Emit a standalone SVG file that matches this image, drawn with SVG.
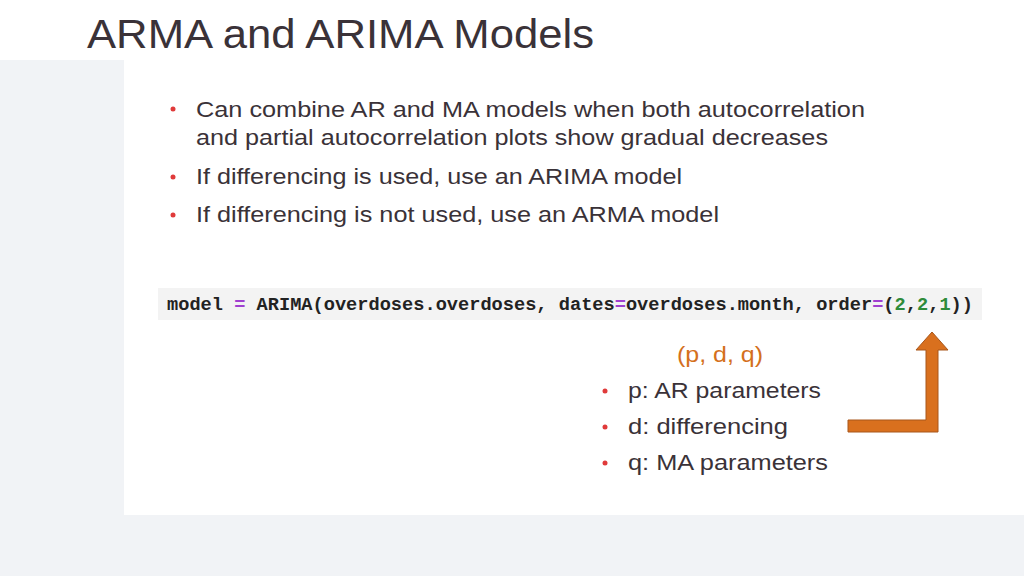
<svg xmlns="http://www.w3.org/2000/svg" width="1024" height="576" viewBox="0 0 1024 576">
<style>
.t{font-family:"Liberation Sans",Arial,sans-serif;fill:#3a3238}
.b{font-size:22px}
.dot{fill:#e03a3a}
.code{font-family:"Liberation Mono","DejaVu Sans Mono",monospace;font-size:17.9px;fill:#222;font-weight:bold}
</style>
<rect width="1024" height="576" fill="#f1f3f6"/>
<rect width="1024" height="60" fill="#ffffff"/>
<text class="t" x="87" y="48" font-size="41" fill="#3b3340" textLength="507" lengthAdjust="spacingAndGlyphs">ARMA and ARIMA Models</text>
<rect x="124" y="60" width="900" height="455" fill="#ffffff"/>
<g id="bullets">
<circle class="dot" cx="173" cy="109" r="2.5"/>
<text class="t b" x="196" y="117" textLength="669" lengthAdjust="spacingAndGlyphs">Can combine AR and MA models when both autocorrelation</text>
<text class="t b" x="196" y="145" textLength="632" lengthAdjust="spacingAndGlyphs">and partial autocorrelation plots show gradual decreases</text>
<circle class="dot" cx="173" cy="177" r="2.5"/>
<text class="t b" x="196" y="184" textLength="486" lengthAdjust="spacingAndGlyphs">If differencing is used, use an ARIMA model</text>
<circle class="dot" cx="173" cy="215" r="2.5"/>
<text class="t b" x="196" y="222" textLength="523" lengthAdjust="spacingAndGlyphs">If differencing is not used, use an ARMA model</text>
</g>
<g id="code">
<rect x="158" y="288" width="824" height="32" fill="#f3f3f3"/>
<text class="code" x="167" y="310" textLength="806" lengthAdjust="spacingAndGlyphs">model <tspan fill="#a040d0">=</tspan> ARIMA(overdoses.overdoses, dates<tspan fill="#a040d0">=</tspan>overdoses.month, order<tspan fill="#a040d0">=</tspan>(<tspan fill="#2e8b3a">2</tspan>,<tspan fill="#2e8b3a">2</tspan>,<tspan fill="#2e8b3a">1</tspan>))</text>
</g>
<g id="legend">
<text x="720" y="362" font-family="Liberation Sans,Arial,sans-serif" font-size="22" fill="#d4701c" text-anchor="middle" textLength="86" lengthAdjust="spacingAndGlyphs">(p, d, q)</text>
<circle class="dot" cx="605" cy="391" r="2.5"/>
<text class="t b" x="628" y="398" textLength="193" lengthAdjust="spacingAndGlyphs">p: AR parameters</text>
<circle class="dot" cx="605" cy="427" r="2.5"/>
<text class="t b" x="628" y="434" textLength="160" lengthAdjust="spacingAndGlyphs">d: differencing</text>
<circle class="dot" cx="605" cy="463" r="2.5"/>
<text class="t b" x="628" y="470" textLength="200" lengthAdjust="spacingAndGlyphs">q: MA parameters</text>
</g>
<g id="connectors">
<path d="M848,420 H926 V350 H916 L932,332 L948,350 H938 V432 H848 Z" fill="#d9701e" stroke="#a8561a" stroke-width="1"/>
</g>
</svg>
